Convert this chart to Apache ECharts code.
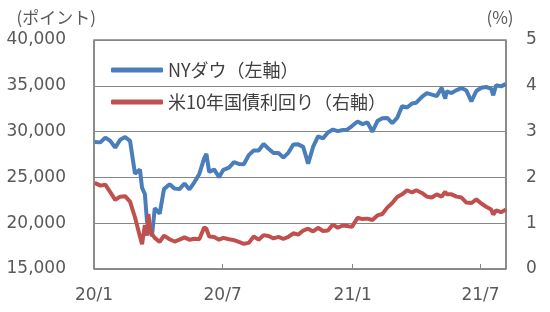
<!DOCTYPE html>
<html>
<head>
<meta charset="utf-8">
<script src="https://cdn.jsdelivr.net/npm/echarts@6/dist/echarts.min.js"></script>
<style>html,body{margin:0;padding:0;background:#fff}#c{width:550px;height:312px}</style>
</head>
<body>
<div id="c"></div>
<script>
var dates = ['2020-01-02','2020-01-10','2020-01-17','2020-01-24','2020-01-31','2020-02-07','2020-02-14','2020-02-21','2020-02-28','2020-03-06','2020-03-09','2020-03-13','2020-03-16','2020-03-18','2020-03-20','2020-03-23','2020-03-27','2020-04-03','2020-04-09','2020-04-17','2020-04-24','2020-05-01','2020-05-08','2020-05-15','2020-05-22','2020-05-29','2020-06-05','2020-06-08','2020-06-12','2020-06-19','2020-06-26','2020-07-02','2020-07-10','2020-07-17','2020-07-24','2020-07-31','2020-08-07','2020-08-14','2020-08-21','2020-08-28','2020-09-04','2020-09-11','2020-09-18','2020-09-25','2020-10-02','2020-10-09','2020-10-16','2020-10-23','2020-10-30','2020-11-06','2020-11-13','2020-11-20','2020-11-27','2020-12-04','2020-12-11','2020-12-18','2020-12-24','2020-12-31','2021-01-08','2021-01-15','2021-01-22','2021-01-29','2021-02-05','2021-02-12','2021-02-19','2021-02-26','2021-03-05','2021-03-12','2021-03-19','2021-03-26','2021-04-01','2021-04-09','2021-04-16','2021-04-23','2021-04-30','2021-05-07','2021-05-12','2021-05-14','2021-05-21','2021-05-28','2021-06-04','2021-06-11','2021-06-18','2021-06-25','2021-07-02','2021-07-09','2021-07-16','2021-07-19','2021-07-23','2021-07-30','2021-08-06'];
var dowValues = [28868,28824,29348,28989,28256,29102,29398,28992,25409,25864,23851,23186,20189,19899,19174,18592,21637,21053,23719,24242,23775,23724,24331,23685,24465,25383,27111,27572,25606,25871,25016,25827,26075,26672,26470,26428,27433,27931,27930,28654,28133,27666,27657,27174,27682,28587,28606,28335,26502,28323,29479,29263,29910,30218,30046,30179,30199,30606,31098,30814,30997,29983,31148,31458,31494,30932,31496,32779,32628,33073,33153,33801,34200,34043,33875,34778,33587,34382,34208,34529,34756,34480,33290,34433,34786,34870,34687,33962,35062,34935,35208];
var yieldValues = [1.88,1.82,1.84,1.68,1.51,1.58,1.59,1.47,1.13,0.71,0.54,0.96,0.73,1.20,0.92,0.76,0.68,0.59,0.73,0.65,0.60,0.64,0.69,0.64,0.66,0.65,0.91,0.88,0.71,0.70,0.64,0.68,0.65,0.63,0.59,0.55,0.57,0.71,0.64,0.74,0.72,0.67,0.70,0.66,0.70,0.78,0.75,0.84,0.88,0.82,0.90,0.83,0.84,0.97,0.90,0.95,0.94,0.92,1.12,1.09,1.10,1.07,1.17,1.20,1.34,1.44,1.57,1.63,1.72,1.67,1.72,1.66,1.58,1.56,1.63,1.58,1.69,1.63,1.63,1.58,1.56,1.45,1.44,1.52,1.43,1.36,1.30,1.19,1.28,1.24,1.30];
var xTickDates = ['2020-01-01','2020-07-01','2021-01-01','2021-07-01'];
var xTickLabels = ['20/1','20/7','21/1','21/7'];
var seriesNames = ['NYダウ（左軸）','米10年国債利回り（右軸）'];

function ts(s){var p=s.split('-');return Date.UTC(+p[0],+p[1]-1,+p[2]);}
var tickTs = xTickDates.map(ts);
var labelMap = {};
tickTs.forEach(function(t,i){labelMap[t]=xTickLabels[i];});

var numFont = 'DejaVu Sans, Noto Sans CJK JP, sans-serif';
var jpFont = 'Noto Sans CJK JP, sans-serif';
var chart = echarts.init(document.getElementById('c'), null, {renderer:'canvas'});
chart.setOption({
  animation:false,
  backgroundColor:'#fff',
  grid:{left:94,right:44,top:40,bottom:43,show:true,borderColor:'#404040',borderWidth:1,containLabel:false},
  legend:{
    orient:'vertical', left:106, top:56, itemGap:14,
    itemWidth:52, itemHeight:5, icon:'roundRect',
    textStyle:{fontFamily:jpFont,fontSize:18,color:'#404040'},
    data:seriesNames
  },
  xAxis:{
    type:'value', min:ts('2020-01-01'), max:ts('2021-08-06'),
    axisLine:{lineStyle:{color:'#868686',width:1.5}},
    axisTick:{show:true,inside:true,length:5,customValues:tickTs,lineStyle:{color:'#868686'}},
    axisLabel:{customValues:tickTs,margin:18,fontFamily:numFont,fontSize:17,color:'#595959',
      formatter:function(v){return labelMap[v]||'';}},
    splitLine:{show:false}
  },
  yAxis:[{
    type:'value', min:15000, max:40000, interval:5000, position:'left',
    name:'(ポイント)', nameLocation:'end', nameGap:14,
    nameTextStyle:{fontFamily:jpFont,fontSize:17,color:'#595959',align:'right',padding:[0,-2,0,0]},
    axisLine:{show:true,lineStyle:{color:'#868686',width:1.5}},
    axisTick:{show:false},
    axisLabel:{margin:28,fontFamily:numFont,fontSize:17,color:'#595959',
      formatter:function(v){return v.toLocaleString('en-US');}},
    splitLine:{show:true,lineStyle:{color:'#868686',width:1.2}}
  },{
    type:'value', min:0, max:5, interval:1, position:'right',
    name:'(%)', nameLocation:'end', nameGap:14,
    nameTextStyle:{fontFamily:jpFont,fontSize:17,color:'#595959',align:'center',padding:[0,12,0,0]},
    axisLine:{show:true,lineStyle:{color:'#868686',width:1.5}},
    axisTick:{show:false},
    axisLabel:{margin:20,fontFamily:numFont,fontSize:17,color:'#595959'},
    splitLine:{show:false}
  }],
  series:[{
    name:seriesNames[0], type:'line', yAxisIndex:0, showSymbol:false,
    lineStyle:{color:'#4a7ebb',width:4}, itemStyle:{color:'#4a7ebb'},
    data:dates.map(function(d,i){return [ts(d),dowValues[i]];})
  },{
    name:seriesNames[1], type:'line', yAxisIndex:1, showSymbol:false,
    lineStyle:{color:'#c0504d',width:4}, itemStyle:{color:'#c0504d'},
    data:dates.map(function(d,i){return [ts(d),yieldValues[i]];})
  }]
});
</script>
</body>
</html>
